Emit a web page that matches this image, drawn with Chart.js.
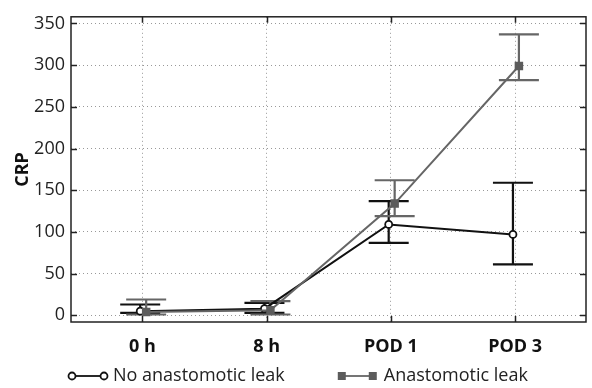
<!DOCTYPE html>
<html>
<head>
<meta charset="utf-8">
<script src="https://cdn.jsdelivr.net/npm/chart.js@4"></script>
<style>
  body { margin: 0; background: #fff; }
  #wrap { width: 592px; height: 388px; }
</style>
</head>
<body>
<div id="wrap"><canvas id="crpChart"></canvas></div>
<script>

const categories = ["0 h", "8 h", "POD 1", "POD 3"];
const yTicks = [0, 50, 100, 150, 200, 250, 300, 350];

const noLeakLabel = "No anastomotic leak";
const noLeakMean = [5, 8, 109, 97];
const noLeakLow = [3, 3, 87, 61];
const noLeakHigh = [13, 15, 137, 159];

const leakLabel = "Anastomotic leak";
const leakMean = [4, 6, 134, 299];
const leakLow = [1, 1, 119, 282];
const leakHigh = [19, 17, 162, 337];

const black = "#111111";
const gray = "#666666";
const font = "'Open Sans', 'Noto Sans', sans-serif";

// slight horizontal dodge so the two series do not sit on top of each other
const dodge = [-0.018, 0.03];

function toPoints(values, shift){
    return values.map((v, i) => ({ x: i + shift, y: v }));
}

const errorBars = {
    id: "errorBars",
    beforeDatasetsDraw(chart){
        const ctx = chart.ctx;
        const xs = chart.scales.x;
        const ys = chart.scales.y;
        const sets = [
            { low: noLeakLow, high: noLeakHigh, color: black, shift: dodge[0] },
            { low: leakLow, high: leakHigh, color: gray, shift: dodge[1] }
        ];
        ctx.save();
        ctx.lineWidth = 2.2;
        sets.forEach(s => {
            ctx.strokeStyle = s.color;
            s.low.forEach((lo, i) => {
                const px = xs.getPixelForValue(i + s.shift);
                const y1 = ys.getPixelForValue(lo);
                const y2 = ys.getPixelForValue(s.high[i]);
                ctx.beginPath();
                ctx.moveTo(px, y1); ctx.lineTo(px, y2);
                ctx.moveTo(px - 20, y1); ctx.lineTo(px + 20, y1);
                ctx.moveTo(px - 20, y2); ctx.lineTo(px + 20, y2);
                ctx.stroke();
            });
        });
        ctx.restore();
    }
};

const frame = {
    id: "frame",
    afterDraw(chart){
        const ctx = chart.ctx;
        const a = chart.chartArea;
        const xs = chart.scales.x;
        const ys = chart.scales.y;
        ctx.save();
        ctx.strokeStyle = "#222";
        ctx.lineWidth = 1.5;
        ctx.strokeRect(a.left, a.top, a.right - a.left, a.bottom - a.top);
        ctx.beginPath();
        categories.forEach((c, i) => {
            const px = Math.round(xs.getPixelForValue(i)) + 0.5;
            ctx.moveTo(px, a.bottom); ctx.lineTo(px, a.bottom - 6);
            ctx.moveTo(px, a.top); ctx.lineTo(px, a.top + 6);
        });
        yTicks.forEach(v => {
            const py = Math.round(ys.getPixelForValue(v)) + 0.5;
            ctx.moveTo(a.left, py); ctx.lineTo(a.left + 6, py);
            ctx.moveTo(a.right, py); ctx.lineTo(a.right - 6, py);
        });
        ctx.stroke();

        // legend
        const ly = 376;
        ctx.font = "18px " + font;
        ctx.textBaseline = "middle";
        ctx.fillStyle = "#222";
        let x = 68;

        ctx.strokeStyle = black;
        ctx.lineWidth = 1.8;
        ctx.beginPath();
        ctx.moveTo(x + 4, ly); ctx.lineTo(x + 36, ly);
        ctx.stroke();
        [x + 4, x + 36].forEach(cx => {
            ctx.beginPath();
            ctx.arc(cx, ly, 3.5, 0, Math.PI * 2);
            ctx.fillStyle = "#fff";
            ctx.fill();
            ctx.stroke();
        });
        ctx.fillStyle = "#222";
        ctx.fillText(noLeakLabel, x + 45, ly);
        x = x + 45 + ctx.measureText(noLeakLabel).width + 53;

        ctx.strokeStyle = gray;
        ctx.beginPath();
        ctx.moveTo(x + 4, ly); ctx.lineTo(x + 34, ly);
        ctx.stroke();
        ctx.fillStyle = "#5c5c5c";
        ctx.fillRect(x, ly - 4, 8, 8);
        ctx.fillRect(x + 31, ly - 4, 8, 8);
        ctx.fillStyle = "#222";
        ctx.fillText(leakLabel, x + 46, ly);
        ctx.restore();
    }
};

const ctx = document.getElementById("crpChart");

new Chart(ctx, {
    type: "line",
    data: {
        datasets: [
            {
                label: noLeakLabel,
                data: toPoints(noLeakMean, dodge[0]),
                borderColor: black,
                borderWidth: 2,
                pointStyle: "circle",
                pointRadius: 3.5,
                pointBorderWidth: 1.8,
                pointBackgroundColor: "#fff",
                pointBorderColor: black,
                order: 1
            },
            {
                label: leakLabel,
                data: toPoints(leakMean, dodge[1]),
                borderColor: gray,
                borderWidth: 2,
                pointStyle: "rect",
                pointRadius: 6,
                pointBorderWidth: 0,
                pointBackgroundColor: "#5c5c5c",
                pointBorderColor: "#5c5c5c",
                order: 0
            }
        ]
    },
    options: {
        responsive: true,
        maintainAspectRatio: false,
        animation: false,
        layout: { padding: { top: 13, right: 1, bottom: 26, left: 12 } },
        plugins: {
            legend: { display: false },
            tooltip: { enabled: false }
        },
        scales: {
            x: {
                type: "linear",
                min: -0.575,
                max: 3.57,
                afterBuildTicks(scale){
                    scale.ticks = categories.map((c, i) => ({ value: i }));
                },
                ticks: {
                    callback: (v) => categories[v],
                    color: "#111",
                    padding: 14,
                    font: { family: font, size: 18, weight: "bold" }
                },
                grid: { color: "#999", lineWidth: 1, drawTicks: false },
                border: { display: false, dash: [1, 3] },
                afterFit(scale){ scale.height = 40; }
            },
            y: {
                min: -8,
                max: 358,
                afterBuildTicks(scale){
                    scale.ticks = yTicks.map(v => ({ value: v }));
                },
                ticks: {
                    color: "#222",
                    padding: 6,
                    font: { family: font, size: 18 }
                },
                title: {
                    display: true,
                    text: "CRP",
                    color: "#111",
                    padding: 0,
                    font: { family: font, size: 18, weight: "bold" }
                },
                grid: { color: "#999", lineWidth: 1, drawTicks: false },
                border: { display: false, dash: [1, 3] },
                afterFit(scale){ scale.width = 59; }
            }
        }
    },
    plugins: [errorBars, frame]
});
</script>
</body>
</html>
